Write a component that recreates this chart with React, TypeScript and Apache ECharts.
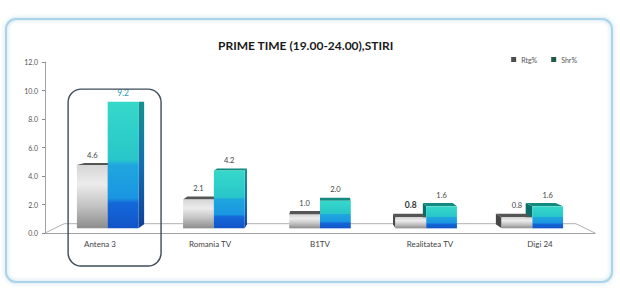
import React, { useEffect, useRef } from 'react';
import * as echarts from 'echarts';

const chartTitle = 'PRIME TIME (19.00-24.00),STIRI';
const categories = ['Antena 3', 'Romania TV', 'B1TV', 'Realitatea TV', 'Digi 24'];
const rtgValues = [4.6, 2.1, 1.0, 0.8, 0.8];
const shrValues = [9.2, 4.2, 2.0, 1.6, 1.6];
const seriesNames = ['Rtg%', 'Shr%'];
const yMin = 0;
const yMax = 12;
const yInterval = 2;
const highlightedCategory = 'Antena 3';
const boldRtgCategory = 'Realitatea TV';

const FONT = 'Lato, "Open Sans", sans-serif';
const T0 = 0.035; // front plane depth
const T1 = 0.065; // back plane depth
const TF = 0.07; // floor back depth

type Pt = number[];
const proj = (p: Pt, V: Pt, t: number): Pt => [p[0] + (V[0] - p[0]) * t, p[1] + (V[1] - p[1]) * t];

const shrFront = () =>
  new echarts.graphic.LinearGradient(0, 0, 0, 1, [
    { offset: 0, color: '#36d8ca' },
    { offset: 0.46, color: '#28c6c9' },
    { offset: 0.5, color: '#1fa6de' },
    { offset: 0.76, color: '#1a96e2' },
    { offset: 0.8, color: '#1468d8' },
    { offset: 1, color: '#1254c8' },
  ]);
const shrSide = () =>
  new echarts.graphic.LinearGradient(0, 0, 0, 1, [
    { offset: 0, color: '#12928c' },
    { offset: 0.5, color: '#126fb0' },
    { offset: 1, color: '#0f3f98' },
  ]);
const grayFront = () =>
  new echarts.graphic.LinearGradient(0, 0, 0, 1, [
    { offset: 0, color: '#d6d6d6' },
    { offset: 0.3, color: '#ececec' },
    { offset: 0.65, color: '#c2c2c2' },
    { offset: 1, color: '#8c8c8c' },
  ]);

function box3d(xl: number, xr: number, yt: number, yb: number, V: Pt, kind: 'gray' | 'shr') {
  const FTL = proj([xl, yt], V, T0);
  const FTR = proj([xr, yt], V, T0);
  const FBR = proj([xr, yb], V, T0);
  const FBL = proj([xl, yb], V, T0);
  const BTL = proj([xl, yt], V, T1);
  const BTR = proj([xr, yt], V, T1);
  const BBR = proj([xr, yb], V, T1);
  const BBL = proj([xl, yb], V, T1);
  const shapes: any[] = [];
  const sideFill = kind === 'shr' ? shrSide() : '#4e4e4e';
  const topFill = kind === 'shr' ? '#138a80' : '#555555';
  if (BTR[0] > FTR[0]) {
    shapes.push({ type: 'polygon', shape: { points: [FTR, BTR, BBR, FBR] }, style: { fill: sideFill } });
  }
  if (BTL[0] < FTL[0]) {
    shapes.push({ type: 'polygon', shape: { points: [FTL, BTL, BBL, FBL] }, style: { fill: kind === 'shr' ? '#0c6e68' : '#474747' } });
  }
  if (BTL[1] < FTL[1]) {
    shapes.push({ type: 'polygon', shape: { points: [FTL, FTR, BTR, BTL] }, style: { fill: topFill } });
  }
  shapes.push({
    type: 'rect',
    shape: { x: FTL[0], y: FTL[1], width: FTR[0] - FTL[0], height: FBL[1] - FTL[1] },
    style: { fill: kind === 'shr' ? shrFront() : grayFront() },
  });
  return {
    shapes,
    labelX: (FTL[0] + FTR[0]) / 2,
    labelY: Math.min(FTL[1], BTL[1]),
  };
}

const renderBars = (params: any, api: any) => {
  const i = api.value(0);
  const r = api.value(1);
  const s = api.value(2);
  const cs = params.coordSys;
  const V: Pt = [cs.x + cs.width / 2, cs.y + 38];
  const base = api.coord([i, 0]);
  const cx = base[0];
  const y0 = base[1];
  const bandW = api.size([1, 0])[0];
  const w = bandW * 0.29;
  const yR = api.coord([i, r])[1];
  const yS = api.coord([i, s])[1];
  const g = box3d(cx - w, cx, yR, y0, V, 'gray');
  const b = box3d(cx, cx + w, yS, y0, V, 'shr');
  const children: any[] = [];
  if (cx < V[0]) {
    children.push(...g.shapes, ...b.shapes);
  } else {
    children.push(...b.shapes, ...g.shapes);
  }
  const cat = categories[i];
  const boldR = cat === boldRtgCategory;
  children.push({
    type: 'text',
    style: {
      text: r.toFixed(1),
      x: g.labelX,
      y: g.labelY - 4,
      align: 'center',
      verticalAlign: 'bottom',
      fill: boldR ? '#333' : '#444',
      fontSize: boldR ? 8.5 : 7.5,
      fontWeight: boldR ? 'bold' : 'normal',
      fontFamily: FONT,
    },
  });
  children.push({
    type: 'text',
    style: {
      text: s.toFixed(1),
      x: b.labelX,
      y: b.labelY - 4,
      align: 'center',
      verticalAlign: 'bottom',
      fill: cat === highlightedCategory ? '#2a9fb8' : '#444',
      fontSize: cat === highlightedCategory ? 8.5 : 7.5,
      fontFamily: FONT,
    },
  });
  if (cat === highlightedCategory) {
    const top = api.coord([i, 10.1])[1];
    const left = cx - bandW * 0.29;
    const right = cx + bandW * 0.555;
    children.push({
      type: 'rect',
      shape: { x: left, y: top, width: right - left, height: y0 + 33 - top, r: 13 },
      style: { fill: 'none', stroke: '#3f4c5c', lineWidth: 1.4 },
    });
  }
  return { type: 'group', children };
};

const renderFloor = (params: any, api: any) => {
  const cs = params.coordSys;
  const V: Pt = [cs.x + cs.width / 2, cs.y + 38];
  const y0 = api.coord([0, 0])[1];
  const FL: Pt = [cs.x, y0];
  const FR: Pt = [cs.x + cs.width, y0];
  const BL = proj(FL, V, TF);
  const BR = proj(FR, V, TF);
  return {
    type: 'polyline',
    shape: { points: [FL, BL, BR, FR] },
    style: { fill: 'none', stroke: '#9c9c9c', lineWidth: 0.8 },
  };
};

export default function App() {
  const ref = useRef<HTMLDivElement>(null);
  useEffect(() => {
    const chart = echarts.init(ref.current!, null, { renderer: 'svg' });
    chart.setOption({
      animation: false,
      backgroundColor: '#ffffff',
      title: {
        text: chartTitle,
        left: 213,
        top: 34,
        textStyle: { fontFamily: FONT, fontSize: 12, fontWeight: 'bold', color: '#1a1a1a' },
      },
      legend: {
        data: seriesNames,
        top: 51,
        right: 38,
        itemWidth: 5,
        itemHeight: 5,
        itemGap: 14,
        icon: 'rect',
        textStyle: { fontFamily: FONT, fontSize: 7, color: '#555' },
      },
      graphic: [
        {
          type: 'rect',
          shape: { x: 6, y: 19, width: 606, height: 263, r: 10 },
          style: {
            fill: 'none',
            stroke: '#a9d4ea',
            lineWidth: 2,
            shadowBlur: 4,
            shadowColor: 'rgba(110,170,210,0.5)',
          },
          z: -1,
        },
      ],
      grid: { left: 45, right: 25, top: 62, bottom: 61 },
      xAxis: {
        type: 'category',
        data: categories,
        axisLine: { lineStyle: { color: '#8a8a8a', width: 0.8 } },
        axisTick: { length: 4, lineStyle: { color: '#9a9a9a' } },
        axisLabel: { fontFamily: FONT, fontSize: 8, color: '#444', margin: 7 },
      },
      yAxis: {
        type: 'value',
        min: yMin,
        max: yMax,
        interval: yInterval,
        splitLine: { show: false },
        axisLine: { show: true, lineStyle: { color: '#8a8a8a', width: 0.8 } },
        axisTick: { show: true, length: 3, lineStyle: { color: '#8a8a8a' } },
        axisLabel: {
          fontFamily: FONT,
          fontSize: 7,
          color: '#555',
          margin: 7,
          formatter: (v: number) => v.toFixed(1),
        },
      },
      series: [
        { name: seriesNames[0], type: 'bar', data: [], itemStyle: { color: '#4d4d4d' } },
        { name: seriesNames[1], type: 'bar', data: [], itemStyle: { color: '#1d5b48' } },
        {
          type: 'custom',
          name: 'floor',
          data: [[0]],
          renderItem: renderFloor,
          z: 1,
          silent: true,
          clip: false,
        },
        {
          type: 'custom',
          name: 'bars',
          data: categories.map((_, i) => [i, rtgValues[i], shrValues[i]]),
          encode: { x: 0, y: [1, 2] },
          renderItem: renderBars,
          z: 2,
          clip: false,
        },
      ],
    });
    return () => chart.dispose();
  }, []);
  return (
    <div
      ref={ref}
      style={{ position: 'fixed', left: 0, top: 0, width: 620, height: 294, background: '#fff' }}
    />
  );
}
